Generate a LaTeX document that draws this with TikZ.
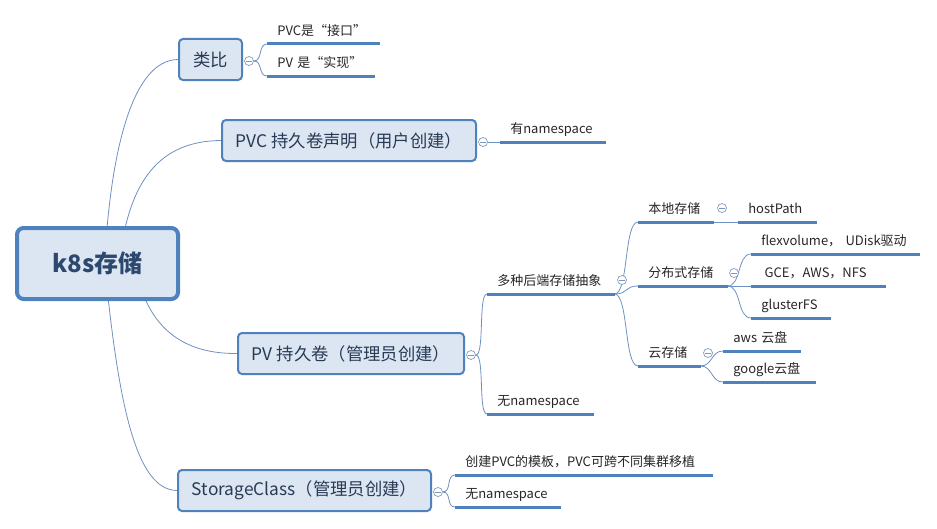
\documentclass[tikz,border=0pt]{standalone}
\usepackage{fontspec}
\newfontfamily\cjk{Noto Sans CJK SC}
\usetikzlibrary{positioning,backgrounds}
\definecolor{kuangbian}{RGB}{79,129,189}
\definecolor{kuangdi}{RGB}{220,230,242}
\definecolor{lianxian}{RGB}{110,145,195}
\definecolor{zitilan}{RGB}{40,58,85}
\definecolor{genzi}{RGB}{45,72,110}
\definecolor{yuanquan}{RGB}{125,150,185}
\tikzset{
  zhuti/.style={draw=kuangbian, fill=kuangdi, line width=1.5pt, rounded corners=3pt, minimum height=30.75pt, inner sep=0pt, text=zitilan, font=\cjk\fontsize{13}{15}\selectfont},
  genjie/.style={zhuti, line width=3pt, rounded corners=5pt, text=genzi, font=\cjk\bfseries\fontsize{18}{21}\selectfont},
  yezi/.style={anchor=south west, inner xsep=7.5pt, inner ysep=4pt, text height=8pt, text depth=2pt, align=left, text width=#1, text=black!85, font=\cjk\fontsize{9.75}{11}\selectfont, execute at begin node=\hbox\bgroup, execute at end node=\egroup},
  xiahua/.style={draw=kuangbian, line width=2.25pt},
  zhixian/.style={draw=lianxian, line width=0.6pt},
  zhedie/.style={circle, draw=yuanquan, fill=white, line width=0.5pt, minimum size=6.75pt, inner sep=0pt,
    path picture={\draw[yuanquan, line width=0.5pt] ([xshift=1.3pt]path picture bounding box.west) -- ([xshift=-1.3pt]path picture bounding box.east);}},
}
\begin{document}
\begin{tikzpicture}[x=0.75pt,y=-0.75pt]
\useasboundingbox (0,0) rectangle (937,528);

% zhu ti
\node[genjie, minimum width=120.75pt, minimum height=53.25pt] (root) at (97.5,263.5) {k8s存储};
\node[zhuti, minimum width=47.25pt] (leibi) at (210.5,59.5) {类比};
\node[zhuti, minimum width=190.5pt] (pvc) at (349,140.5) {PVC 持久卷声明（用户创建）};
\node[zhuti, minimum width=169.5pt] (pv) at (351,353.5) {PV 持久卷（管理员创建）};
\node[zhuti, minimum width=189.75pt] (sc) at (304.5,490.5) {StorageClass（管理员创建）};

% ye zi
\node[yezi=69pt] (jiekou) at (267,44) {PVC是“接口”};
\node[yezi=65.25pt] (shixian) at (267,76) {PV 是“实现”};
\node[yezi=63.75pt] (youns) at (500,142) {有namespace};
\node[yezi=80.25pt] (duozhong) at (487,294) {多种后端存储抽象};
\node[yezi=64.5pt] (wuns) at (487,414) {无namespace};
\node[yezi=41.25pt] (bendi) at (638,222) {本地存储};
\node[yezi=43.5pt] (hostpath) at (738,222) {hostPath};
\node[yezi=51.75pt] (fenbu) at (638,286) {分布式存储};
\node[yezi=111pt] (flex) at (751,254) {flexvolume， UDisk驱动};
\node[yezi=85.5pt] (gce) at (751,286) {\hspace{2.5pt}GCE，AWS，NFS};
\node[yezi=44.25pt] (gluster) at (751,318) {glusterFS};
\node[yezi=31.5pt] (yun) at (638,366) {云存储};
\node[yezi=42.75pt] (aws) at (723,351) {aws 云盘};
\node[yezi=54pt] (google) at (723,382) {google云盘};
\node[yezi=177.75pt] (muban) at (455,475) {创建PVC的模板，PVC可跨不同集群移植};
\node[yezi=63.75pt] (wuns2) at (455,507) {无namespace};

% zhe die
\node[zhedie] (zd1) at (249,61) {};
\node[zhedie] (zd2) at (483,142) {};
\node[zhedie] (zd3) at (471,355) {};
\node[zhedie] (zd4) at (438,492) {};
\node[zhedie] (zd5) at (622,280) {};
\node[zhedie] (zd6) at (722,208) {};
\node[zhedie] (zd7) at (734,273) {};
\node[zhedie] (zd8) at (708,353) {};

\begin{scope}[on background layer]
\draw[zhixian] (root.center) ++(7,0) .. controls (110,160) and (130,60) .. (leibi.west);
\draw[zhixian] (root.center) ++(22,0) .. controls (128,180) and (160,141) .. (pvc.west);
\draw[zhixian] (root.center) ++(37,0) .. controls (145,320) and (175,354) .. (pv.west);
\draw[zhixian] (root.center) ++(7,0) .. controls (118,400) and (135,490) .. (sc.west);

\draw[zhixian] (zd1.east) .. controls +(9,0) and +(-9,0) .. (jiekou.south west);
\draw[zhixian] (zd1.east) .. controls +(9,0) and +(-9,0) .. (shixian.south west);
\draw[zhixian] (zd2.east) -- (youns.south west);
\draw[zhixian] (zd3.east) .. controls +(9,0) and +(-9,0) .. (duozhong.south west);
\draw[zhixian] (zd3.east) .. controls +(9,0) and +(-9,0) .. (wuns.south west);
\draw[zhixian] (duozhong.south east) .. controls +(14,0) and +(-14,0) .. (bendi.south west);
\draw[zhixian] (duozhong.south east) .. controls +(14,0) and +(-14,0) .. (fenbu.south west);
\draw[zhixian] (duozhong.south east) .. controls +(14,0) and +(-14,0) .. (yun.south west);
\draw[zhixian] (bendi.south east) -- (hostpath.south west);
\draw[zhixian] (fenbu.south east) .. controls +(14,0) and +(-14,0) .. (flex.south west);
\draw[zhixian] (fenbu.south east) -- (gce.south west);
\draw[zhixian] (fenbu.south east) .. controls +(14,0) and +(-14,0) .. (gluster.south west);
\draw[zhixian] (yun.south east) .. controls +(12,0) and +(-12,0) .. (aws.south west);
\draw[zhixian] (yun.south east) .. controls +(12,0) and +(-12,0) .. (google.south west);
\draw[zhixian] (zd4.east) .. controls +(9,0) and +(-9,0) .. (muban.south west);
\draw[zhixian] (zd4.east) .. controls +(9,0) and +(-9,0) .. (wuns2.south west);
\end{scope}

\foreach \n in {jiekou,shixian,youns,duozhong,wuns,bendi,hostpath,fenbu,flex,gce,gluster,yun,aws,google,muban,wuns2}
  \draw[xiahua] (\n.south west) -- (\n.south east);
\end{tikzpicture}
\end{document}
